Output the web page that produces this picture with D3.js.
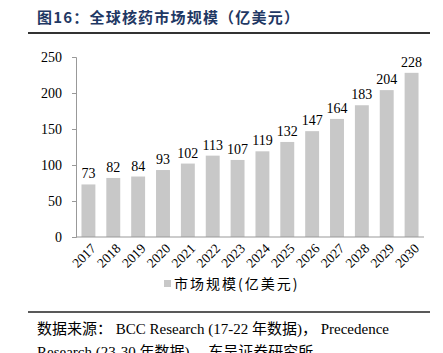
<!DOCTYPE html>
<html>
<head>
<meta charset="utf-8">
<script src="https://cdn.jsdelivr.net/npm/d3@7"></script>
<style>
  body { margin: 0; background: #fff; }
  svg { display: block; }
</style>
</head>
<body>
<div id="chart"></div>
<script>
const years = ['2017', '2018', '2019', '2020', '2021', '2022', '2023', '2024',
  '2025', '2026', '2027', '2028', '2029', '2030'];
const marketSize = [73, 82, 84, 93, 102, 113, 107, 119, 132, 147, 164, 183, 204, 228];
const yTicks = [0, 50, 100, 150, 200, 250];
const seriesName = '市场规模(亿美元)';

const W = 443, H = 353;
const serif = '"Liberation Serif", "Times New Roman", serif';
const cjk = '"Noto Sans CJK SC", sans-serif';

const svg = d3.select('#chart')
  .append('svg')
  .attr('width', W)
  .attr('height', H);

// title
svg.append('text')
  .attr('x', 37)
  .attr('y', 23)
  .attr('fill', '#1f3864')
  .style('font-family', cjk)
  .style('font-weight', 'bold')
  .style('font-size', '15px')
  .style('letter-spacing', '1.2px')
  .text('图16：全球核药市场规模（亿美元）');

svg.append('line')
  .attr('x1', 28).attr('x2', 430)
  .attr('y1', 33).attr('y2', 33)
  .attr('stroke', '#333')
  .attr('stroke-width', 2);

// scales
const x = d3.scaleBand()
  .domain(years)
  .range([76, 424])
  .paddingInner(0.44)
  .paddingOuter(0.22);

const y = d3.scaleLinear()
  .domain([0, 250])
  .range([237, 57]);

// y axis
const yAxis = svg.append('g')
  .attr('transform', 'translate(76,0)')
  .call(d3.axisLeft(y).tickValues(yTicks).tickSize(4).tickPadding(10));
yAxis.selectAll('text')
  .style('font-family', serif)
  .style('font-size', '14px')
  .attr('fill', '#000');
yAxis.selectAll('line, path').attr('stroke', '#999');

// bars
svg.append('g')
  .selectAll('rect')
  .data(marketSize)
  .join('rect')
  .attr('x', (d, i) => x(years[i]))
  .attr('y', d => y(d))
  .attr('width', x.bandwidth())
  .attr('height', d => y(0) - y(d))
  .attr('fill', '#c8c8c8');

// value labels
svg.append('g')
  .selectAll('text')
  .data(marketSize)
  .join('text')
  .attr('x', (d, i) => x(years[i]) + x.bandwidth() / 2)
  .attr('y', d => y(d) - 6)
  .attr('text-anchor', 'middle')
  .style('font-family', serif)
  .style('font-size', '14px')
  .attr('fill', '#000')
  .text(d => d);

// x axis
const xAxis = svg.append('g')
  .attr('transform', 'translate(0,237)')
  .call(d3.axisBottom(x).tickSize(0).tickPadding(0).tickSizeOuter(0));
xAxis.select('path').attr('stroke', '#999').attr('d', 'M76,0H424');
xAxis.selectAll('text')
  .style('font-family', serif)
  .style('font-size', '13.5px')
  .attr('fill', '#000')
  .attr('text-anchor', 'end')
  .attr('dy', '0.35em')
  .attr('transform', 'translate(5,9) rotate(-45)');

// legend
const legend = svg.append('g').attr('transform', 'translate(164,284)');
legend.append('rect')
  .attr('x', 0).attr('y', -4)
  .attr('width', 7).attr('height', 7)
  .attr('fill', '#c8c8c8');
legend.append('text')
  .attr('x', 10)
  .attr('y', 0)
  .attr('dy', '0.35em')
  .style('font-family', cjk)
  .style('font-size', '14px')
  .style('letter-spacing', '2px')
  .attr('fill', '#000')
  .text(seriesName);

// source
svg.append('line')
  .attr('x1', 28).attr('x2', 430)
  .attr('y1', 312).attr('y2', 312)
  .attr('stroke', '#222')
  .attr('stroke-width', 1.5);

const source = svg.append('g')
  .style('font-family', serif + ',' + cjk)
  .style('font-size', '15px')
  .attr('fill', '#000');
source.append('text').attr('x', 37).attr('y', 334)
  .style('white-space', 'pre')
  .text('数据来源： BCC Research (17-22 年数据)， Precedence');
source.append('text').attr('x', 37).attr('y', 357)
  .style('white-space', 'pre')
  .text('Research (23-30 年数据)， 东吴证券研究所');
</script>
</body>
</html>
